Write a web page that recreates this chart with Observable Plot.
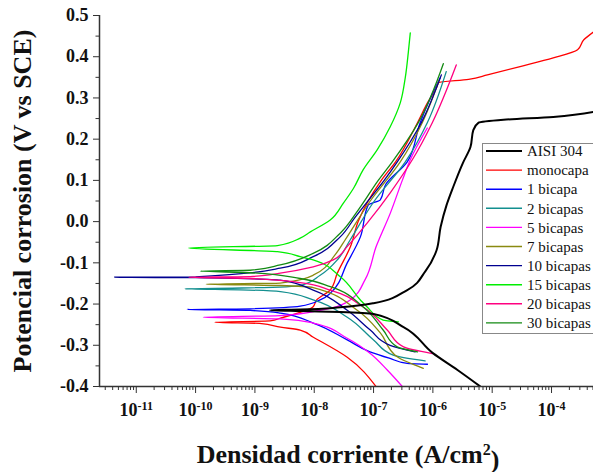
<!DOCTYPE html>
<html>
<head>
<meta charset="utf-8">
<script src="https://cdn.jsdelivr.net/npm/d3@7"></script>
<script src="https://cdn.jsdelivr.net/npm/@observablehq/plot@0.6"></script>
<style>
  html, body { margin: 0; padding: 0; background: #fff; }
  #wrap { position: relative; width: 593px; height: 472px; overflow: hidden; }
  #overlay { position: absolute; left: 0; top: 0; pointer-events: none; }
  #wrap svg text, #wrap svg tspan { font-family: "Liberation Serif", "Times New Roman", serif !important; }
</style>
</head>
<body>
<div id="wrap"></div>
<script>
const SERIF = "'Liberation Serif', 'Times New Roman', serif";
// Series names and colours (legend order)
const seriesNames = ["AISI 304", "monocapa", "1 bicapa", "2 bicapas", "5 bicapas",
                     "7 bicapas", "10 bicapas", "15 bicapas", "20 bicapas", "30 bicapas"];
const seriesColors = ["#000000", "#ff0000", "#0000ff", "#138f8f", "#ff00ff",
                      "#8a8a10", "#000090", "#00ee00", "#ff0080", "#138a13"];

// Polarization curves: [current density (A/cm2), potential (V vs SCE)], ordered by potential
const aisi304 = [[6.3e-6,-0.400],[2.6e-6,-0.360],[1.0e-6,-0.319],[3.2e-7,-0.256],[1.0e-7,-0.224],
  [2.75e-8,-0.219],[5.8e-9,-0.217],[1.8e-9,-0.215],[5.8e-9,-0.2135],[2.75e-8,-0.208],[1.0e-7,-0.198],
  [3.7e-7,-0.166],[7.5e-7,-0.120],[1.15e-6,-0.070],[1.35e-6,-0.013],[1.7e-6,0.040],[2.2e-6,0.084],
  [3.2e-6,0.142],[4.3e-6,0.181],[4.8e-6,0.222],[5.9e-6,0.240],[1.55e-5,0.247],[1.07e-4,0.254],[5.1e-4,0.266]];
const monocapa = [[1.1e-7,-0.400],[3.6e-8,-0.329],[9.5e-9,-0.280],[5.8e-9,-0.263],[2.7e-9,-0.256],
  [1.2e-9,-0.247],[2.1e-10,-0.244],[1.8e-9,-0.241],[2.7e-9,-0.234],[9.5e-9,-0.207],[1.1e-8,-0.190],
  [1.86e-8,-0.166],[2.45e-8,-0.125],[4.1e-8,-0.060],[5.5e-8,0.000],[1.35e-7,0.100],[2.35e-7,0.145],
  [5.5e-7,0.240],[8.1e-7,0.288],[1.17e-6,0.327],[1.25e-6,0.337],[4.0e-6,0.345],[8.3e-6,0.356],
  [2.95e-5,0.376],[1.07e-4,0.397],[2.75e-4,0.417],[3.5e-4,0.441],[5.1e-4,0.460]];
const bicapa1 = [[8.1e-7,-0.346],[3.7e-7,-0.344],[1.9e-7,-0.332],[8.7e-8,-0.316],[3.6e-8,-0.287],
  [9.6e-9,-0.246],[2.7e-9,-0.222],[8.3e-10,-0.2155],[7.2e-11,-0.213],[8.3e-10,-0.2115],[5.8e-9,-0.205],
  [1.26e-8,-0.190],[1.86e-8,-0.174],[3.6e-8,-0.100],[6.0e-8,-0.037],[8.1e-8,0.040],[1.3e-7,0.053],
  [1.6e-7,0.090],[3.7e-7,0.145],[6.1e-7,0.240],[9.1e-7,0.300],[1.33e-6,0.349]];
const bicapas2 = [[7.4e-7,-0.338],[2.14e-7,-0.324],[1.0e-7,-0.287],[3.6e-8,-0.232],[9.6e-9,-0.190],
  [2.7e-9,-0.170],[5.6e-10,-0.1655],[6.6e-11,-0.163],[6.0e-10,-0.161],[5.8e-9,-0.155],[1.26e-8,-0.130],
  [2.54e-8,-0.090],[4.05e-8,-0.044],[1.03e-7,0.050],[3.43e-7,0.145],[8.05e-7,0.240],[1.68e-6,0.364]];
const bicapas5 = [[3.05e-7,-0.400],[1.7e-7,-0.360],[8.8e-8,-0.320],[3.6e-8,-0.283],[9.6e-9,-0.246],
  [2.67e-9,-0.236],[1.35e-10,-0.232],[2.67e-9,-0.228],[1.26e-8,-0.215],[4.05e-8,-0.190],[7.24e-8,-0.140],
  [1.11e-7,-0.060],[1.91e-7,0.020],[3.05e-7,0.100],[4.16e-7,0.150],[8.05e-7,0.227]];
const bicapas7 = [[6.9e-7,-0.356],[2.5e-7,-0.328],[1.3e-7,-0.270],[5.3e-8,-0.215],[9.6e-9,-0.160],
  [2.67e-9,-0.155],[1.5e-10,-0.152],[2.67e-9,-0.149],[9.6e-9,-0.130],[2.26e-8,-0.080],[3.33e-8,-0.044],
  [8.79e-8,0.050],[2.82e-7,0.145],[6.62e-7,0.240],[1.28e-6,0.344]];
const bicapas10 = [[5.0e-7,-0.316],[1.9e-7,-0.300],[8.8e-8,-0.263],[3.6e-8,-0.215],[9.6e-9,-0.166],
  [2.67e-9,-0.142],[1.0e-10,-0.136],[4.3e-12,-0.135],[1.0e-10,-0.134],[2.67e-9,-0.113],[9.6e-9,-0.085],
  [2.74e-8,-0.037],[4.91e-8,0.011],[7.53e-8,0.045],[1.51e-7,0.100],[2.51e-7,0.145],[6.37e-7,0.240],[1.39e-6,0.356]];
const bicapas15 = [[2.63e-7,-0.243],[1.45e-7,-0.239],[7.8e-8,-0.207],[6.0e-8,-0.190],[2.75e-8,-0.134],
  [9.6e-9,-0.093],[5.8e-9,-0.085],[2.4e-9,-0.073],[7.6e-11,-0.064],[2.4e-9,-0.058],[5.8e-9,-0.040],
  [8.6e-9,-0.025],[1.86e-8,0.004],[3.1e-8,0.045],[4.6e-8,0.081],[6.7e-8,0.126],[1.15e-7,0.174],
  [1.91e-7,0.230],[2.82e-7,0.288],[3.43e-7,0.350],[3.85e-7,0.410],[4.16e-7,0.458]];
const bicapas20 = [[9.8e-7,-0.320],[3.2e-7,-0.304],[1.7e-7,-0.263],[6.7e-8,-0.207],[1.86e-8,-0.166],
  [5.8e-9,-0.148],[8.3e-10,-0.138],[7.6e-11,-0.135],[8.3e-10,-0.1335],[2.67e-9,-0.125],[9.6e-9,-0.110],
  [2.09e-8,-0.093],[3.61e-8,-0.060],[8.15e-8,0.000],[1.91e-7,0.070],[4.5e-7,0.150],[9.77e-7,0.240],[2.48e-6,0.380]];
const bicapas30 = [[5.5e-7,-0.316],[2.5e-7,-0.304],[1.45e-7,-0.263],[6.7e-8,-0.207],[1.86e-8,-0.158],
  [5.8e-9,-0.138],[8.3e-10,-0.124],[1.2e-10,-0.120],[8.3e-10,-0.118],[2.67e-9,-0.105],[9.6e-9,-0.077],
  [2.74e-8,-0.028],[5.5e-8,0.028],[1.2e-7,0.100],[2.07e-7,0.145],[5.68e-7,0.240],[1.5e-6,0.383]];

const seriesData = [aisi304, monocapa, bicapa1, bicapas2, bicapas5, bicapas7, bicapas10, bicapas15, bicapas20, bicapas30];

// Axes
const xDomain = [2.4e-12, 5.1e-4];
const yDomain = [-0.4, 0.5];
const xMajorTicks = [1e-11, 1e-10, 1e-9, 1e-8, 1e-7, 1e-6, 1e-5, 1e-4];
const yMajorTicks = [-0.4, -0.3, -0.2, -0.1, 0.0, 0.1, 0.2, 0.3, 0.4, 0.5];
const yMinorTicks = [-0.35, -0.25, -0.15, -0.05, 0.05, 0.15, 0.25, 0.35, 0.45];
const xMinorTicks = [];
for (let e = -12; e <= -4; e++) for (let k = 2; k <= 9; k++) {
  const v = k * Math.pow(10, e);
  if (v >= xDomain[0] && v <= xDomain[1]) xMinorTicks.push(v);
}
const xTitle = "Densidad corriente (A/cm";
const yTitle = "Potencial corrosion (V vs SCE)";

const rows = [];
seriesNames.forEach((name, si) => {
  seriesData[si].forEach(([i, E]) => rows.push({series: name, i, E}));
});

const axisColor = "#333";
const chart = Plot.plot({
  width: 593,
  height: 472,
  marginLeft: 99,
  marginRight: 0,
  marginTop: 15,
  marginBottom: 86,
  style: {fontFamily: SERIF, fontSize: "18px", fontWeight: "bold", background: "#fff", color: "#111"},
  x: {type: "log", domain: xDomain},
  y: {domain: yDomain},
  color: {domain: seriesNames, range: seriesColors},
  marks: [
    Plot.line(rows.filter(d => d.series !== "AISI 304"), {x: "i", y: "E", z: "series", stroke: "series",
      strokeWidth: 1.3, curve: "monotone-y", clip: true}),
    Plot.line(rows.filter(d => d.series === "AISI 304"), {x: "i", y: "E", stroke: "series",
      strokeWidth: 2, curve: "monotone-y", clip: true}),
    Plot.axisY({ticks: yMajorTicks, tickSize: 6, tickPadding: 5, stroke: axisColor,
      tickFormat: d => d.toFixed(1), label: null}),
    Plot.axisY({ticks: yMinorTicks, tickSize: 3.5, stroke: axisColor, tickFormat: () => "", label: null}),
    Plot.axisX({ticks: xMajorTicks, tickSize: 7, tickPadding: 10, stroke: axisColor,
      tickFormat: d => "10^" + Math.round(Math.log10(d)), label: null}),
    Plot.axisX({ticks: xMinorTicks, tickSize: 4, stroke: axisColor, tickFormat: () => "", label: null}),
    Plot.ruleX([xDomain[0]], {stroke: axisColor, strokeWidth: 1.5}),
    Plot.ruleY([yDomain[0]], {stroke: axisColor, strokeWidth: 1.5})
  ]
});

// Superscript exponents on x tick labels
d3.select(chart).selectAll("text").each(function() {
  const m = /^10\^(-?\d+)$/.exec(this.textContent);
  if (m) {
    const t = d3.select(this);
    t.text("10");
    t.append("tspan").attr("dy", "-0.55em").attr("font-size", "12px").text(m[1]);
  }
});
d3.select(chart).attr("font-family", SERIF).attr("font-size", 18).attr("font-weight", "bold");
d3.select(chart).selectAll("text").attr("font-family", SERIF).attr("font-weight", "bold")
  .style("font-family", SERIF);

const wrap = document.getElementById("wrap");
wrap.appendChild(chart);

// Titles and legend overlay
const ov = d3.select(wrap).append("svg").attr("id", "overlay")
  .attr("width", 593).attr("height", 472).attr("font-family", SERIF);

const xt = ov.append("text").attr("x", 348).attr("y", 463).attr("text-anchor", "middle")
  .attr("font-family", SERIF).attr("font-size", "26px").attr("font-weight", "bold")
  .attr("fill", "#111").text(xTitle);
xt.append("tspan").attr("dy", "-0.5em").attr("font-size", "16px").text("2");
xt.append("tspan").attr("dy", "0.5em").text(")");

ov.append("text").attr("transform", "translate(31,201) rotate(-90)").attr("text-anchor", "middle")
  .attr("font-family", SERIF).attr("font-size", "26px").attr("font-weight", "bold")
  .attr("fill", "#111").text(yTitle);

const lg = ov.append("g");
lg.append("rect").attr("x", 482.5).attr("y", 143.5).attr("width", 140).attr("height", 190)
  .attr("fill", "#fff").attr("stroke", "#888").attr("stroke-width", 1);
seriesNames.forEach((name, k) => {
  const yy = 151 + k * 19.1;
  lg.append("line").attr("x1", 486).attr("x2", 522).attr("y1", yy).attr("y2", yy)
    .attr("stroke", seriesColors[k]).attr("stroke-width", k === 0 ? 2 : 1.4);
  lg.append("text").attr("x", 527).attr("y", yy).attr("dy", "0.35em")
    .attr("font-family", SERIF).attr("font-size", "15px").attr("font-weight", "normal")
    .attr("fill", "#111").text(name);
});
</script>
</body>
</html>
